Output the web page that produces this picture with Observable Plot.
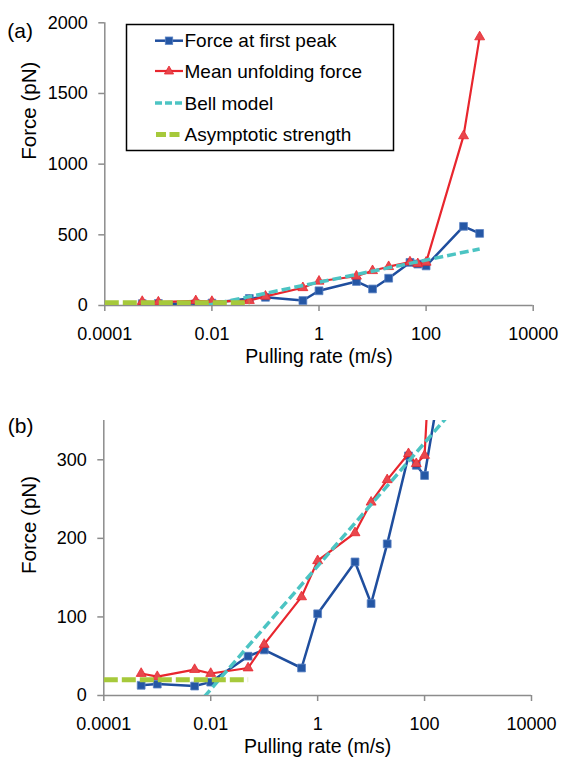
<!DOCTYPE html>
<html>
<head>
<meta charset="utf-8">
<script src="https://cdn.jsdelivr.net/npm/d3@7"></script>
<script src="https://cdn.jsdelivr.net/npm/@observablehq/plot@0.6"></script>
<style>
  html, body { margin: 0; padding: 0; background: #fff; }
  #wrap { position: relative; width: 562px; height: 761px; overflow: hidden; font-family: "Liberation Sans", Arial, sans-serif; }
  #wrap svg { display: block; }
  #legend { position: absolute; left: 0; top: 0; }
</style>
</head>
<body>
<div id="wrap"></div>
<script>
// ---- data ----
const rates = [0.0005, 0.001, 0.005, 0.01, 0.05, 0.1, 0.5, 1, 5, 10, 20, 50, 70, 100, 500, 1000];
const firstPeak = [13, 14.5, 12, 17, 50, 58, 35, 104, 170, 117, 193, 305, 293, 280, 560, 510];
const meanUnfolding = [28, 24, 33, 28, 35, 65, 125.5, 171.5, 207, 246, 274.5, 307.7, 295, 305.5, 1200, 1900];
const bellRates = [0.0075, 1000];
const bellForce = [-2, 400];
const asymRates = [0.0001, 0.05];
const asymForce = [20, 20];
const xTicks = [0.0001, 0.01, 1, 100, 10000];
const xTickLabels = ["0.0001", "0.01", "1", "100", "10000"];
const yTicksA = [0, 500, 1000, 1500, 2000];
const yTicksB = [0, 100, 200, 300];
const seriesNames = ["Force at first peak", "Mean unfolding force", "Bell model", "Asymptotic strength"];

const BLUE = "#1f4e9e", BLUE_FILL = "#2557a5", BLUE_EDGE = "#5a82c3";
const RED = "#e8262e", RED_FILL = "#e8474d";
const CYAN = "#4cc4c3";
const GREEN = "#a6c93b";
const GRAY = "#8c8c8c";
const FONT = "Liberation Sans, Arial, sans-serif";

const peakData = rates.map((r, i) => ({x: r, y: firstPeak[i]}));
const meanData = rates.map((r, i) => ({x: r, y: meanUnfolding[i]}));
const bellData = bellRates.map((r, i) => ({x: r, y: bellForce[i]}));
const asymData = asymRates.map((r, i) => ({x: r, y: asymForce[i]}));

function panel(o) {
  return Plot.plot({
    width: 562,
    height: o.height,
    marginTop: o.marginTop,
    marginBottom: o.marginBottom,
    marginLeft: o.marginLeft,
    marginRight: o.marginRight,
    x: {type: "log", domain: [1e-4, 1e4]},
    y: {domain: o.yDomain},
    style: {fontFamily: FONT, fontSize: "18px", color: "#000", background: "transparent", overflow: "visible"},
    marks: [
      Plot.ruleY([0], {stroke: GRAY, strokeWidth: 1.5}),
      Plot.ruleX([1e-4], {stroke: GRAY, strokeWidth: 1.5}),
      Plot.axisX({ticks: xTicks, tickFormat: d => xTickLabels[xTicks.indexOf(d)], tickSize: 6, tickPadding: 16,
                  stroke: GRAY, strokeWidth: 1.5, fill: "#000", label: null, fontSize: 18}),
      Plot.axisY({ticks: o.yTicks, tickFormat: d => String(d), tickSize: 6, tickPadding: 11,
                  stroke: GRAY, strokeWidth: 1.5, fill: "#000", label: null, fontSize: 18}),
      Plot.line(peakData, {x: "x", y: "y", stroke: BLUE, strokeWidth: 2.5, clip: true}),
      Plot.dot(peakData, {x: "x", y: "y", symbol: "square", r: 4.4, fill: BLUE_FILL, stroke: BLUE_EDGE, strokeWidth: 0.8, clip: true}),
      Plot.line(meanData, {x: "x", y: "y", stroke: RED, strokeWidth: 2.2, clip: true}),
      Plot.dot(meanData, {x: "x", y: "y", symbol: "triangle", r: 3.7, fill: RED_FILL, stroke: RED, strokeWidth: 0.8, clip: true}),
      Plot.line(bellData, {x: "x", y: "y", stroke: CYAN, strokeWidth: 3.5, strokeDasharray: "9,4", strokeLinecap: "butt", clip: true}),
      Plot.line(asymData, {x: "x", y: "y", stroke: GREEN, strokeWidth: 5, strokeDasharray: "14,4", strokeLinecap: "butt", clip: true}),
      Plot.text([o.tag], {text: d => d, frameAnchor: "top-left", dx: o.tagDx, dy: o.tagDy, textAnchor: "start", fontSize: 21, fill: "#000"}),
      Plot.text(["Force (pN)"], {text: d => d, frameAnchor: "left", rotate: -90, dx: o.yTitleDx, dy: o.yTitleDy, fontSize: 20.5, fill: "#000"}),
      Plot.text(["Pulling rate (m/s)"], {text: d => d, frameAnchor: "bottom", dy: 57, fontSize: 19.5, fill: "#000"})
    ]
  });
}

const wrap = document.getElementById("wrap");

const chartA = panel({
  height: 380, marginTop: 22.3, marginBottom: 75, marginLeft: 104.3, marginRight: 29.3,
  yDomain: [0, 2000], yTicks: yTicksA, tag: "(a)", tagDx: -97.5, tagDy: 0,
  yTitleDx: -75, yTitleDy: -4.5
});
const chartB = panel({
  height: 381, marginTop: 40, marginBottom: 66, marginLeft: 103.3, marginRight: 31,
  yDomain: [0, 350], yTicks: yTicksB, tag: "(b)", tagDx: -96, tagDy: -2,
  yTitleDx: -74, yTitleDy: 16
});
wrap.appendChild(chartA);
wrap.appendChild(chartB);

// ---- legend (panel a) ----
const NS = "http://www.w3.org/2000/svg";
const leg = document.createElementNS(NS, "svg");
leg.setAttribute("id", "legend");
leg.setAttribute("width", 562);
leg.setAttribute("height", 380);
function el(tag, attrs, parent) {
  const e = document.createElementNS(NS, tag);
  for (const k in attrs) e.setAttribute(k, attrs[k]);
  (parent || leg).appendChild(e);
  return e;
}
el("rect", {x: 126.5, y: 24.5, width: 267, height: 126, fill: "#fff", stroke: "#000", "stroke-width": 1.5});
const rowY = [40.7, 71, 103, 134.6];
const baseY = [47.3, 78.3, 110, 141];
// swatches
el("line", {x1: 155, x2: 183, y1: rowY[0], y2: rowY[0], stroke: BLUE, "stroke-width": 2.5});
el("rect", {x: 169 - 3.7, y: rowY[0] - 3.7, width: 7.4, height: 7.4, fill: BLUE_FILL, stroke: BLUE_EDGE, "stroke-width": 0.8});
el("line", {x1: 155, x2: 183, y1: rowY[1], y2: rowY[1], stroke: RED, "stroke-width": 2.2});
el("path", {d: `M169,${rowY[1] - 5} L173.6,${rowY[1] + 3} L164.4,${rowY[1] + 3} Z`, fill: RED_FILL, stroke: RED, "stroke-width": 0.8});
el("line", {x1: 155, x2: 183, y1: rowY[2], y2: rowY[2], stroke: CYAN, "stroke-width": 3.5, "stroke-dasharray": "7,3"});
el("line", {x1: 156, x2: 183, y1: rowY[3], y2: rowY[3], stroke: GREEN, "stroke-width": 5, "stroke-dasharray": "10,3.5"});
seriesNames.forEach((name, i) => {
  const t = el("text", {x: 184.5, y: baseY[i], "font-family": FONT, "font-size": 19, fill: "#000"});
  t.textContent = name;
});
wrap.appendChild(leg);
</script>
</body>
</html>
